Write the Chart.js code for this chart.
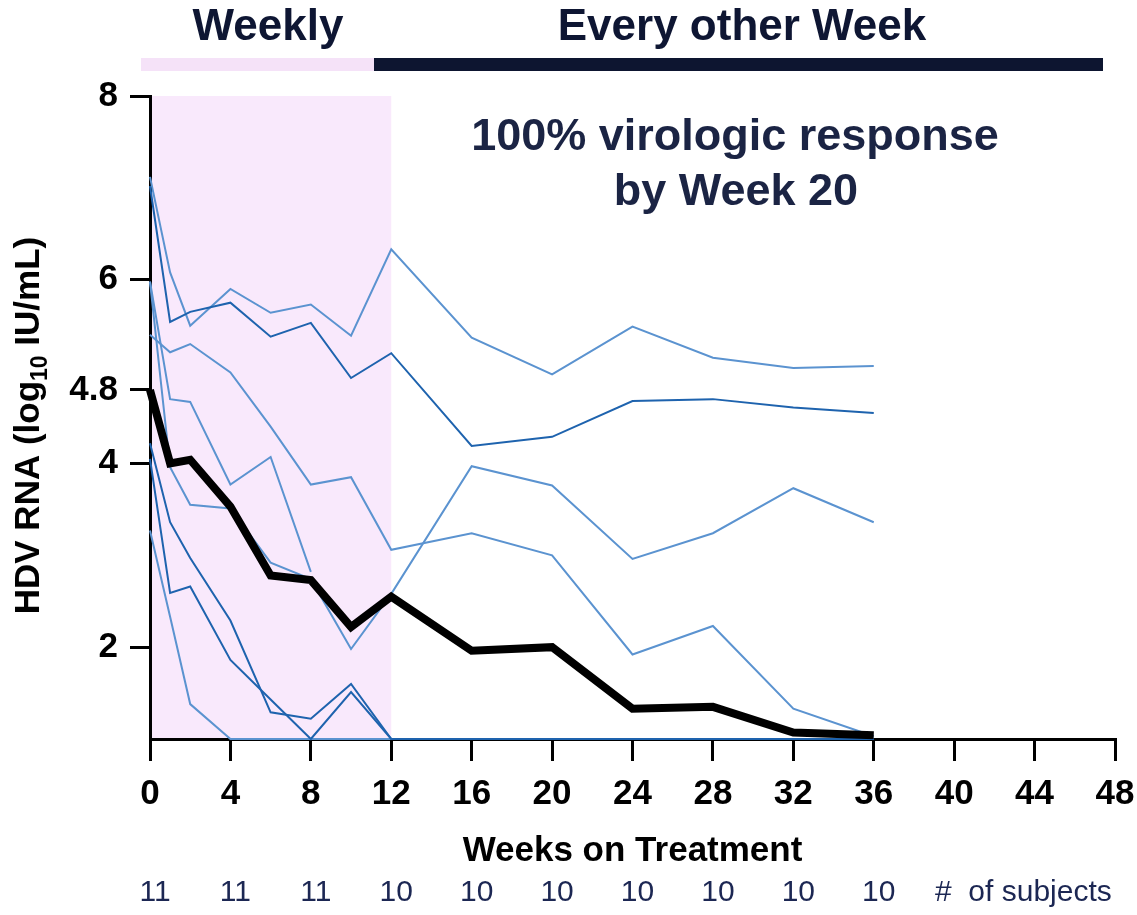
<!DOCTYPE html>
<html><head><meta charset="utf-8">
<script src="https://cdn.jsdelivr.net/npm/chart.js@4.4.1/dist/chart.umd.min.js"></script>
<style>
html,body{margin:0;padding:0;background:#fff;}
#wrap{position:relative;width:1137px;height:915px;overflow:hidden;font-family:'Liberation Sans',Arial,sans-serif;}
canvas{position:absolute;left:0;top:0;}
.hdr{position:absolute;font-weight:bold;color:#0e1633;line-height:1;white-space:nowrap;transform:translateX(-50%);}
.bar{position:absolute;}
</style></head><body>
<div id="wrap">
<canvas id="c" width="1137" height="915"></canvas>
<div class="bar" style="left:141px;top:58px;width:233px;height:13px;background:#f5e2f8"></div>
<div class="bar" style="left:374px;top:58px;width:729px;height:13px;background:#0d1530"></div>
<div class="hdr" style="left:268px;top:3px;font-size:44px">Weekly</div>
<div class="hdr" style="left:742px;top:3px;font-size:44px">Every other Week</div>
<div class="hdr" style="left:735px;top:112px;font-size:45px;color:#1b2444">100% virologic response</div>
<div class="hdr" style="left:736px;top:167px;font-size:45px;color:#1b2444">by Week 20</div>
</div>
<script>
// ---- data ----
const weeks = [0,1,2,4,6,8,10,12,16,20,24,28,32,36];
const meanHDV = [4.80,4.00,4.04,3.53,2.78,2.73,2.22,2.55,1.96,2.00,1.33,1.35,1.07,1.04];
const subjA = [7.12,6.08,5.50,5.90,5.64,5.73,5.39,6.33,5.37,4.97,5.49,5.15,5.04,5.06];
const subjB = [7.02,5.54,5.65,5.75,5.38,5.53,4.93,5.20,4.19,4.29,4.68,4.70,4.61,4.55];
const subjC = [5.40,5.21,5.30,4.99,4.40,3.77,3.85,3.06,3.24,3.00,1.92,2.23,1.33,1.03];
const subjD = [5.98,4.70,4.67,3.77,4.07,2.82,null,null,null,null,null,null,null,null];
const subjF = [5.98,3.96,3.55,3.51,2.92,2.74,1.98,2.58,3.97,3.76,2.96,3.24,3.73,3.36];
const subjG = [4.22,3.36,2.97,2.29,1.29,1.22,1.60,1.00,1.00,1.00,1.00,1.00,1.00,1.00];
const subjH = [4.05,2.59,2.66,1.86,1.43,1.00,1.51,1.00,1.00,1.00,1.00,1.00,1.00,1.00];
const subjI = [3.27,2.33,1.38,1.00,1.00,1.00,1.00,1.00,1.00,1.00,1.00,1.00,1.00,1.00];
const lightSubjects = [subjA, subjC, subjD, subjF, subjI];
const darkSubjects = [subjB, subjG, subjH];
const xTicks = [0,4,8,12,16,20,24,28,32,36,40,44,48];
const yTicks = [2,4,4.8,6,8];
const countWeeks = [0,4,8,12,16,20,24,28,32,36];
const subjectCounts = [11,11,11,10,10,10,10,10,10,10];
const weeklyPhase = [0,12];

const FONT = "'Liberation Sans', Arial, sans-serif";
const toPts = arr => weeks.map((w,i)=>({x:w,y:arr[i]}));

const datasets = [];
datasets.push({data:toPts(meanHDV),borderColor:'#000',borderWidth:8,order:0,borderJoinStyle:'miter',clip:false});
darkSubjects.forEach(s=>datasets.push({data:toPts(s),borderColor:'#1e63ae',borderWidth:2,order:1,clip:false}));
lightSubjects.forEach(s=>datasets.push({data:toPts(s),borderColor:'#5b93d0',borderWidth:2,order:2,clip:false}));

const deco = {
  id:'deco',
  beforeDraw(chart){
    const {ctx, chartArea, scales:{x}} = chart;
    const x0 = x.getPixelForValue(weeklyPhase[0]), x1 = x.getPixelForValue(weeklyPhase[1]);
    ctx.save(); ctx.fillStyle = '#f9e9fc';
    ctx.fillRect(x0, chartArea.top, x1-x0, chartArea.bottom-chartArea.top);
    ctx.restore();
  },
  afterDraw(chart){
    const {ctx, chartArea, scales:{x}} = chart;
    ctx.save();
    ctx.fillStyle = '#1c2753';
    ctx.font = "30px " + FONT;
    ctx.textAlign = 'center'; ctx.textBaseline = 'middle';
    countWeeks.forEach((w,i)=>ctx.fillText(String(subjectCounts[i]), x.getPixelForValue(w)+5, 893));
    ctx.textAlign = 'left';
    ctx.fillText('#  of subjects', 935, 893);
    // y title with subscript
    ctx.fillStyle = '#000';
    ctx.translate(27, (chartArea.top+chartArea.bottom)/2 + 8);
    ctx.rotate(-Math.PI/2);
    const f1 = "bold 35px " + FONT, f2 = "bold 23px " + FONT;
    const p1 = 'HDV RNA (log', p2 = '10', p3 = ' IU/mL)';
    ctx.font = f1; const w1 = ctx.measureText(p1).width, w3 = ctx.measureText(p3).width;
    ctx.font = f2; const w2 = ctx.measureText(p2).width;
    let sx = -(w1+w2+w3)/2;
    ctx.textBaseline = 'alphabetic';
    ctx.font = f1; ctx.fillText(p1, sx, 12); sx += w1;
    ctx.font = f2; ctx.fillText(p2, sx, 20); sx += w2;
    ctx.font = f1; ctx.fillText(p3, sx, 12);
    ctx.restore();
  }
};

new Chart(document.getElementById('c'), {
  type:'line',
  data:{datasets},
  options:{
    responsive:false, animation:false, devicePixelRatio:1,
    layout:{padding:{top:96,right:22,bottom:0,left:0}},
    plugins:{legend:{display:false},tooltip:{enabled:false}},
    elements:{point:{radius:0}, line:{tension:0}},
    scales:{
      x:{type:'linear',min:0,max:48,
        afterBuildTicks:s=>{s.ticks = xTicks.map(v=>({value:v}));},
        afterFit:s=>{s.height=176; s.paddingLeft=0; s.paddingRight=0;},
        grid:{display:true,drawOnChartArea:false,drawTicks:true,tickLength:22,color:'#000',lineWidth:3},
        border:{display:true,color:'#000',width:3},
        ticks:{color:'#000',font:{family:FONT,size:35,weight:'bold'},padding:12,maxRotation:0,autoSkip:false},
        title:{display:true,text:'Weeks on Treatment',color:'#000',font:{family:FONT,size:35,weight:'bold',lineHeight:1},padding:{top:0,bottom:46}}
      },
      y:{type:'linear',min:1,max:8,
        afterBuildTicks:s=>{s.ticks = yTicks.map(v=>({value:v}));},
        afterFit:s=>{s.width=150; s.paddingTop=0; s.paddingBottom=0;},
        grid:{display:true,drawOnChartArea:false,drawTicks:true,tickLength:20,color:'#000',lineWidth:3},
        border:{display:true,color:'#000',width:3},
        ticks:{color:'#000',font:{family:FONT,size:35,weight:'bold'},padding:12,autoSkip:false,callback:v=>String(v)}
      }
    }
  },
  plugins:[deco]
});
</script>
</body></html>
